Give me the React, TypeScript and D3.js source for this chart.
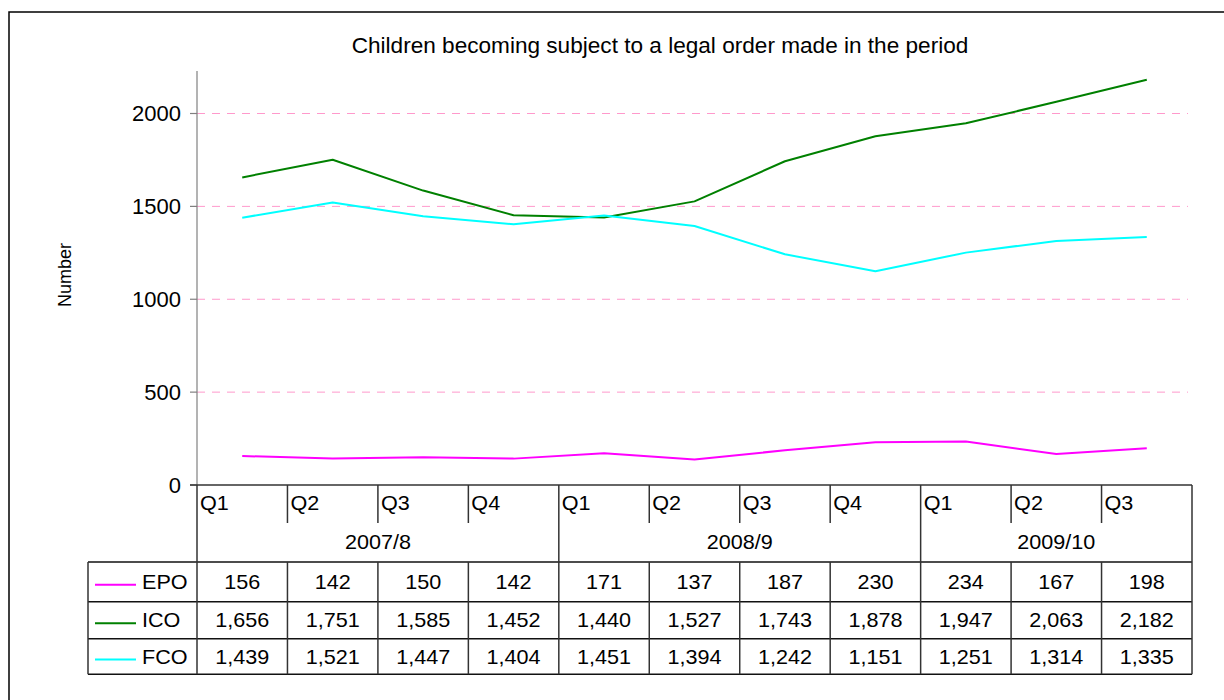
import React from "react";
import * as d3 from "d3";

// Quarterly counts of children becoming subject to each type of legal order
const quarters = ["Q1", "Q2", "Q3", "Q4", "Q1", "Q2", "Q3", "Q4", "Q1", "Q2", "Q3"];
const years = ["2007/8", "2008/9", "2009/10"];
const quartersPerYear = [4, 4, 3];

const epo = [156, 142, 150, 142, 171, 137, 187, 230, 234, 167, 198];
const ico = [1656, 1751, 1585, 1452, 1440, 1527, 1743, 1878, 1947, 2063, 2182];
const fco = [1439, 1521, 1447, 1404, 1451, 1394, 1242, 1151, 1251, 1314, 1335];

const seriesNames = ["EPO", "ICO", "FCO"];
const seriesColors = ["#FF00FF", "#008000", "#00FFFF"];
const yTicks = [0, 500, 1000, 1500, 2000];

const W = 1224;
const H = 700;
const FONT = "'Liberation Sans', Arial, sans-serif";

const plot = { left: 197, right: 1192, top: 71, bottom: 485 };
const rows = { q: 523, year: 562, r1: 601.7, r2: 638.7, r3: 674.3 };
const tableLeft = 88;

type TProps = {
  x: number;
  y: number;
  size: number;
  anchor?: "start" | "middle" | "end";
  sx?: number;
  children: React.ReactNode;
};

function T({ x, y, size, anchor = "start", sx = 1, children }: TProps) {
  return (
    <text
      transform={`translate(${x},${y}) scale(${sx},1)`}
      fontFamily={FONT}
      fontSize={size}
      textAnchor={anchor}
      fill="#000"
    >
      {children}
    </text>
  );
}

export default function App() {
  const idx = quarters.map((_, i) => i);
  const x = d3.scaleBand<number>().domain(idx).range([plot.left, plot.right]).padding(0);
  const bw = x.bandwidth();
  const cx = (i: number) => (x(i) as number) + bw / 2;
  const y = d3.scaleLinear().domain([0, 2000]).range([plot.bottom, 113.5]);

  const series = [epo, ico, fco];
  const line = d3
    .line<number>()
    .x((_, i) => cx(i))
    .y((d) => y(d));

  const fmt = d3.format(",");

  // year group boundaries (category indices)
  const yearStarts: number[] = [];
  quartersPerYear.reduce((acc, n) => {
    yearStarts.push(acc);
    return acc + n;
  }, 0);
  const yearBoundarySet = new Set(yearStarts.slice(1));

  const rowTops = [rows.year, rows.r1, rows.r2];
  const rowBottoms = [rows.r1, rows.r2, rows.r3];

  return (
    <svg
      width={W}
      height={H}
      style={{ position: "absolute", left: 0, top: 0, background: "#fff" }}
    >
      <rect x={0} y={0} width={W} height={H} fill="#fff" />
      {/* chart frame */}
      <rect x={9} y={12} width={W + 20} height={H + 20} fill="none" stroke="#000" strokeWidth={1.5} />

      <T x={660} y={53} size={22.6} anchor="middle">
        Children becoming subject to a legal order made in the period
      </T>

      {/* gridlines */}
      {yTicks
        .filter((t) => t > 0)
        .map((t) => (
          <line
            key={t}
            x1={plot.left}
            x2={1188}
            y1={y(t)}
            y2={y(t)}
            stroke="#FF99CC"
            strokeWidth={1}
            strokeDasharray="8,7"
          />
        ))}

      {/* y axis */}
      <line x1={plot.left} x2={plot.left} y1={plot.top} y2={plot.bottom} stroke="#808080" strokeWidth={1.2} />
      {yTicks.map((t) => (
        <g key={t}>
          <line x1={190} x2={plot.left} y1={y(t)} y2={y(t)} stroke="#808080" strokeWidth={1.2} />
          <T x={181} y={y(t) + 7.5} size={22} anchor="end">
            {t}
          </T>
        </g>
      ))}
      <text
        transform={`translate(71,275) rotate(-90)`}
        fontFamily={FONT}
        fontSize={18}
        textAnchor="middle"
        fill="#000"
      >
        Number
      </text>

      {/* series lines */}
      {series.map((s, k) => (
        <path key={k} d={line(s) || ""} fill="none" stroke={seriesColors[k]} strokeWidth={2} strokeLinejoin="round" />
      ))}

      {/* data table */}
      <g>
        {/* horizontal rules */}
        <line x1={190} x2={plot.right} y1={plot.bottom} y2={plot.bottom} stroke="#333" strokeWidth={1.5} />
        {[rows.year, rows.r1, rows.r2, rows.r3].map((ry, i) => (
          <line key={i} x1={tableLeft} x2={plot.right} y1={ry} y2={ry} stroke="#111" strokeWidth={1.5} />
        ))}
        {/* outer verticals */}
        <line x1={plot.left} x2={plot.left} y1={plot.bottom} y2={rows.r3} stroke="#333" strokeWidth={1.5} />
        <line x1={plot.right} x2={plot.right} y1={plot.bottom} y2={rows.r3} stroke="#333" strokeWidth={1.5} />
        <line x1={tableLeft} x2={tableLeft} y1={rows.year} y2={rows.r3} stroke="#333" strokeWidth={1.5} />
        {/* category separators */}
        {idx.slice(1).map((i) => {
          const bx = x(i) as number;
          const isYear = yearBoundarySet.has(i);
          return (
            <g key={i}>
              <line
                x1={bx}
                x2={bx}
                y1={plot.bottom}
                y2={isYear ? rows.r3 : rows.q}
                stroke="#333"
                strokeWidth={1.5}
              />
              {!isYear && (
                <line x1={bx} x2={bx} y1={rows.year} y2={rows.r3} stroke="#333" strokeWidth={1.5} />
              )}
            </g>
          );
        })}

        {/* quarter labels */}
        {quarters.map((q, i) => (
          <T key={i} x={(x(i) as number) + 3} y={510} size={20} sx={1.08}>
            {q}
          </T>
        ))}
        {/* year labels */}
        {years.map((yr, j) => {
          const start = yearStarts[j];
          const end = start + quartersPerYear[j];
          const mid = ((x(start) as number) + (end < quarters.length ? (x(end) as number) : plot.right)) / 2;
          return (
            <T key={yr} x={mid} y={549} size={20} anchor="middle" sx={1.08}>
              {yr}
            </T>
          );
        })}

        {/* legend keys + values */}
        {series.map((s, k) => {
          const cy = (rowTops[k] + rowBottoms[k]) / 2;
          return (
            <g key={k}>
              <line x1={95} x2={136} y1={cy + 3} y2={cy + 3} stroke={seriesColors[k]} strokeWidth={2} />
              <T x={142} y={cy + 7} size={20} sx={1.08}>
                {seriesNames[k]}
              </T>
              {s.map((v, i) => (
                <T key={i} x={cx(i)} y={cy + 7} size={20} anchor="middle" sx={1.08}>
                  {fmt(v)}
                </T>
              ))}
            </g>
          );
        })}
      </g>
    </svg>
  );
}
